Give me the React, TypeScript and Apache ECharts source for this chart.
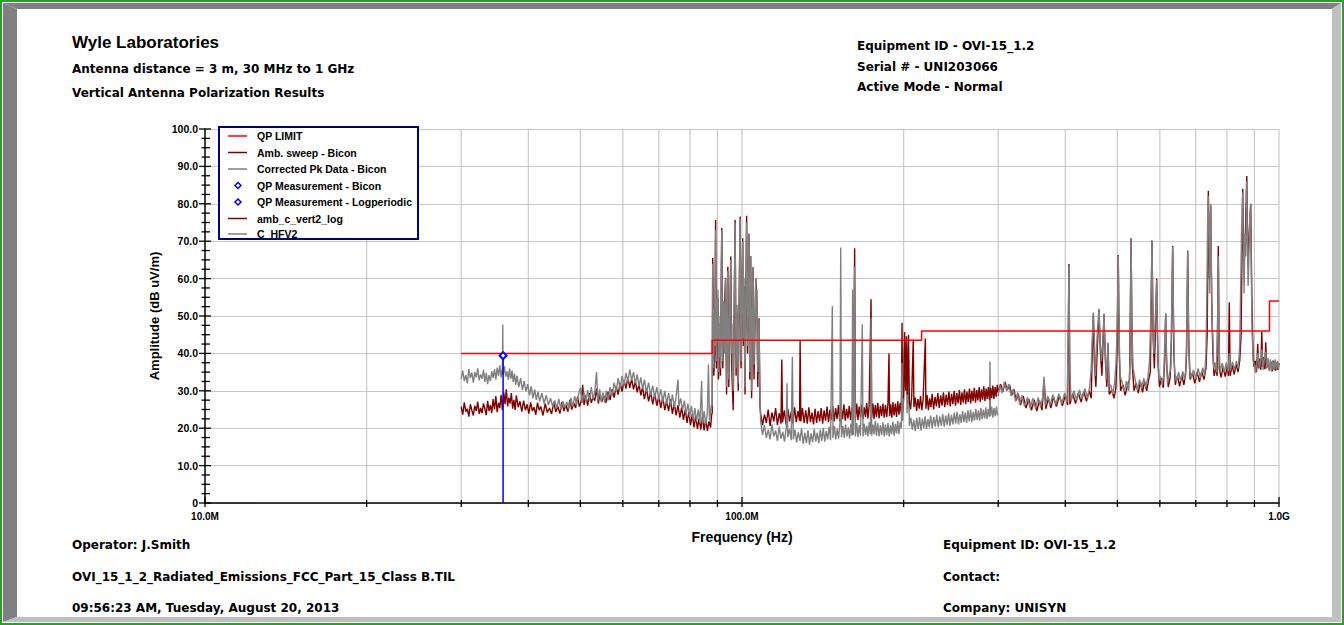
import React, { useEffect, useRef } from "react";
import * as echarts from "echarts";

const FONT = "'Liberation Sans', Arial, Helvetica, sans-serif";
const WIDE_FONT = "'DejaVu Sans', 'Liberation Sans', Arial, sans-serif";

// ---- axis ticks (MHz / dBuV/m) ----
const xMajorTicks = [10, 100, 1000];
const xTickLabels = ["10.0M", "100.0M", "1.0G"];
const xMinorTicks = [20, 30, 40, 50, 60, 70, 80, 90, 200, 300, 400, 500, 600, 700, 800, 900];
const xGridLines = [20, 30, 40, 50, 60, 70, 80, 90, 100, 200, 300, 400, 500, 600, 700, 800, 900, 1000];
const yMajorTicks = [0, 10, 20, 30, 40, 50, 60, 70, 80, 90, 100];
const yMinorTicks = [2.5, 5, 7.5, 12.5, 15, 17.5, 22.5, 25, 27.5, 32.5, 35, 37.5, 42.5, 45, 47.5, 52.5, 55, 57.5, 62.5, 65, 67.5, 72.5, 75, 77.5, 82.5, 85, 87.5, 92.5, 95, 97.5];

// ---- QP limit (MHz, dBuV/m) ----
const limitFreq = [30, 88, 216, 960, 1000];
const limitLevel = [40, 43.5, 46, 54, 54];

// ---- QP measurements ----
const qpBiconFreq = [35.9];
const qpBiconLevel = [39.4];
const qpLogFreq: number[] = [];
const qpLogLevel: number[] = [];

// ---- Amb. sweep - Bicon [MHz, dBuV/m] ----
const ambBicon = [
  [30.0,25.8],[30.2,23.6],[30.4,26.9],[30.6,24.4],[30.8,25.2],[31.0,23.1],[31.2,26.4],[31.4,24.8],[31.6,23.4],[31.8,26.0],
  [32.0,24.6],[32.2,27.1],[32.4,23.8],[32.6,25.4],[32.8,24.0],[33.0,26.6],[33.2,25.2],[33.4,23.5],[33.6,27.3],[33.8,24.6],
  [34.0,26.2],[34.2,24.1],[34.4,27.8],[34.6,25.0],[34.8,28.6],[35.0,24.3],[35.2,26.8],[35.4,25.4],[35.6,28.9],[35.8,24.8],
  [36.0,29.6],[36.2,26.4],[36.4,30.4],[36.6,25.8],[36.8,28.2],[37.0,26.6],[37.2,29.4],[37.4,25.2],[37.6,27.6],[37.8,24.9],
  [38.0,28.8],[38.3,25.6],[38.6,27.2],[38.9,24.4],[39.2,27.4],[39.5,24.8],[39.8,26.4],[40.1,23.9],[40.4,26.9],[40.7,24.6],
  [41.0,25.6],[41.3,23.6],[41.6,26.8],[41.9,24.8],[42.2,25.8],[42.6,23.4],[43.0,26.6],[43.4,24.2],[43.8,25.4],[44.2,23.8],
  [44.6,26.9],[45.0,24.4],[45.4,25.8],[45.8,23.9],[46.2,27.0],[46.6,24.6],[47.0,26.2],[47.4,24.4],[47.8,27.6],[48.2,25.0],
  [48.6,26.8],[49.0,25.4],[49.4,28.4],[49.8,25.8],[50.2,27.2],[50.5,31.6],[50.8,26.2],[51.2,28.8],[51.6,26.0],[52.0,29.4],
  [52.4,26.8],[52.8,28.2],[53.2,27.4],[53.6,30.6],[54.0,26.6],[54.4,29.2],[54.8,27.0],[55.3,28.6],[55.8,26.8],[56.3,29.8],
  [56.8,27.6],[57.3,30.4],[57.8,28.2],[58.3,31.2],[58.8,29.0],[59.3,32.2],[59.8,29.8],[60.3,32.8],[60.8,30.6],[61.3,33.6],
  [61.8,30.8],[62.3,33.2],[62.8,30.4],[63.3,32.6],[63.8,29.6],[64.3,31.8],[64.8,28.8],[65.3,31.0],[65.8,27.8],[66.4,30.6],
  [67.0,27.2],[67.6,29.8],[68.2,26.4],[68.8,29.4],[69.4,26.0],[70.0,28.6],[70.6,25.4],[71.2,28.4],[71.8,24.8],[72.4,27.4],
  [73.0,24.6],[73.6,27.8],[74.2,23.8],[74.8,26.6],[75.4,23.4],[76.0,26.2],[76.6,22.8],[77.2,25.6],[77.8,22.2],[78.4,25.0],
  [79.0,21.4],[79.6,24.4],[80.2,20.8],[80.8,23.8],[81.4,20.2],[82.0,23.4],[82.6,19.8],[83.2,22.6],[83.8,19.6],[84.4,23.0],
  [85.0,19.4],[85.6,22.4],[86.2,19.3],[86.8,21.8],[87.4,20.2],[87.8,23.6],
  [88.0,24.0],[88.2,65.5],[88.6,34.0],[89.0,40.0],[89.3,75.7],[89.6,36.0],[90.2,55.0],[90.4,33.0],[91.0,46.0],[91.2,34.0],
  [91.7,73.5],[92.1,36.0],[92.6,50.0],[93.2,60.2],[93.6,29.0],[94.1,63.2],[94.5,31.0],[95.3,65.9],[95.6,38.0],[96.3,24.8],
  [97.1,75.7],[97.5,34.0],[97.9,51.0],[98.4,30.0],[99.2,76.6],[99.6,36.0],[100.3,70.8],[100.6,42.0],[100.9,58.0],[101.3,29.0],
  [102.0,76.8],[102.4,40.0],[103.0,72.0],[103.4,33.0],[103.8,66.0],[104.2,28.0],[104.8,63.0],[105.3,33.0],[106.1,60.0],[106.6,55.0],
  [107.0,31.0],[107.6,49.4],[108.0,26.0],
  [108.3,24.0],[109.2,20.8],[110.1,23.6],[111.0,21.4],[111.9,25.0],[112.8,20.6],[113.7,24.2],[114.6,21.8],[115.5,25.4],[116.4,20.8],
  [117.3,24.0],[118.2,21.2],[118.6,38.4],[119.0,21.6],[119.9,24.8],[120.8,21.0],[121.7,25.2],[122.6,21.8],[123.5,24.4],[124.4,21.2],
  [125.3,25.6],[126.2,21.6],[127.1,24.6],[128.0,22.0],[128.3,43.3],[128.7,21.8],[129.6,25.4],[130.5,21.4],[131.4,24.8],[132.3,21.2],
  [133.2,25.6],[134.1,21.6],[135.0,24.2],[135.9,21.0],[136.8,25.2],[137.7,21.4],[138.6,24.6],[139.5,21.8],[140.4,25.4],[141.3,21.2],
  [142.2,24.8],[143.1,22.0],[144.0,25.8],[144.9,21.6],[145.8,25.0],[146.7,22.2],[147.6,26.0],[148.5,21.8],[149.4,25.4],[150.3,22.4],
  [151.2,26.2],[152.1,21.8],[153.0,25.6],[153.9,22.4],[154.8,26.4],[155.7,22.0],[156.6,25.2],[157.5,22.6],[158.4,26.0],[159.3,22.2],
  [160.2,25.6],[161.1,22.8],[162.1,68.1],[162.6,22.4],[163.5,26.6],[164.4,22.2],[165.3,25.8],[166.2,22.8],[167.1,26.4],[168.0,22.4],
  [168.9,25.6],[169.8,23.0],[170.7,26.8],[171.6,22.6],[172.5,26.0],[173.9,54.5],[174.4,22.8],[175.3,26.6],[176.2,22.4],[177.1,26.2],
  [178.0,23.0],[179.0,26.8],[180.0,22.6],[181.0,26.0],[182.0,23.2],[183.0,26.6],[184.0,22.8],[185.0,26.2],[186.0,23.0],[187.0,26.8],
  [187.8,40.0],[188.3,23.2],[189.2,26.4],[190.1,22.8],[191.0,27.0],[192.0,23.4],[193.0,26.6],[194.0,23.0],[195.0,27.2],[196.0,23.6],
  [197.0,26.8],[198.0,24.0],[198.6,48.2],[199.2,24.4],[200.0,28.0]
];

// ---- Corrected Pk Data - Bicon [MHz, dBuV/m] ----
const pkBicon = [
  [30.0,33.2],[30.2,35.4],[30.4,32.6],[30.6,34.2],[30.8,32.0],[31.0,35.8],[31.2,33.4],[31.4,34.9],[31.6,32.2],[31.8,35.0],
  [32.0,33.6],[32.2,36.0],[32.4,32.8],[32.6,34.4],[32.8,33.2],[33.0,35.6],[33.2,32.4],[33.4,34.8],[33.6,31.8],[33.8,34.2],
  [34.0,32.6],[34.2,35.2],[34.4,33.4],[34.6,35.8],[34.8,33.0],[35.0,36.2],[35.2,34.0],[35.4,36.8],[35.6,33.6],[35.8,36.2],
  [35.85,47.7],[35.9,34.2],[36.1,36.6],[36.3,33.8],[36.5,35.2],[36.7,33.0],[36.9,36.0],[37.1,33.2],[37.3,35.4],[37.5,32.4],
  [37.7,34.6],[37.9,31.6],[38.1,34.0],[38.4,31.0],[38.7,33.4],[39.0,30.2],[39.3,32.6],[39.6,29.8],[39.9,31.8],[40.2,28.8],
  [40.5,31.2],[40.8,28.0],[41.1,30.4],[41.4,27.6],[41.7,29.8],[42.0,27.2],[42.4,29.4],[42.8,26.6],[43.2,28.8],[43.6,26.2],
  [44.0,28.0],[44.4,25.8],[44.8,27.4],[45.2,25.4],[45.6,27.8],[46.0,25.0],[46.4,27.2],[46.8,25.6],[47.2,27.0],[47.6,25.2],
  [48.0,28.2],[48.4,25.8],[48.8,28.6],[49.2,26.2],[49.6,29.0],[50.0,30.8],[50.4,26.8],[50.8,29.6],[51.2,27.0],[51.6,30.2],
  [52.0,27.4],[52.4,31.0],[52.8,27.8],[53.2,30.0],[53.6,35.0],[53.9,27.2],[54.3,30.4],[54.7,27.0],[55.1,29.6],[55.5,26.8],
  [55.9,30.0],[56.3,27.4],[56.8,31.0],[57.3,28.6],[57.8,32.2],[58.3,29.8],[58.8,33.4],[59.3,30.6],[59.8,34.0],[60.3,31.4],
  [60.8,34.8],[61.3,32.4],[61.8,35.7],[62.3,32.8],[62.8,35.0],[63.3,32.0],[63.8,34.4],[64.3,31.2],[64.8,33.6],[65.3,30.4],
  [65.8,33.0],[66.4,29.6],[67.0,32.2],[67.6,28.8],[68.2,31.4],[68.8,28.2],[69.4,31.0],[70.0,27.6],[70.6,30.4],[71.2,27.0],
  [71.8,30.0],[72.4,26.4],[73.0,29.4],[73.6,26.0],[74.2,29.0],[74.8,25.6],[75.4,28.4],[76.0,33.0],[76.3,25.8],[76.9,28.0],
  [77.5,24.8],[78.1,27.4],[78.7,23.8],[79.3,26.6],[79.9,23.0],[80.5,26.0],[81.1,22.4],[81.7,25.4],[82.3,21.8],[82.9,25.0],
  [83.5,21.4],[84.1,32.6],[84.4,21.2],[85.0,24.6],[85.6,21.0],[86.2,24.0],[86.6,37.0],[87.0,22.0],[87.6,26.0],
  [88.0,26.0],[88.1,45.0],[88.2,64.0],[88.3,40.0],[88.45,52.0],[88.6,36.0],[88.8,48.0],[89.0,42.0],[89.15,60.0],[89.3,73.0],
  [89.45,46.0],[89.6,38.0],[89.8,55.0],[90.0,44.0],[90.2,57.0],[90.4,35.0],[90.6,50.0],[90.8,39.0],[91.0,48.0],[91.2,36.0],
  [91.45,62.0],[91.7,73.0],[91.9,45.0],[92.1,38.0],[92.35,54.0],[92.6,52.0],[92.8,40.0],[93.0,50.0],[93.2,60.0],[93.4,42.0],
  [93.6,31.0],[93.85,50.0],[94.1,62.0],[94.3,40.0],[94.5,33.0],[94.75,48.0],[95.0,55.0],[95.3,65.0],[95.45,46.0],[95.6,40.0],
  [95.8,48.0],[96.0,36.0],[96.3,30.0],[96.55,48.0],[96.8,58.0],[97.1,75.0],[97.3,50.0],[97.5,36.0],[97.7,45.0],[97.9,53.0],
  [98.15,40.0],[98.4,32.0],[98.6,46.0],[98.9,62.0],[99.2,76.0],[99.4,52.0],[99.6,38.0],[99.9,55.0],[100.3,70.0],[100.45,50.0],
  [100.6,44.0],[100.9,60.0],[101.1,42.0],[101.3,31.0],[101.6,52.0],[102.0,75.0],[102.2,55.0],[102.4,42.0],[102.7,58.0],[103.0,72.0],
  [103.2,48.0],[103.4,35.0],[103.6,50.0],[103.8,66.0],[104.0,44.0],[104.2,30.0],[104.5,48.0],[104.8,63.0],[105.05,45.0],[105.3,37.0],
  [105.7,50.0],[106.1,60.0],[106.35,48.0],[106.6,57.0],[106.8,42.0],[107.0,35.0],[107.3,44.0],[107.6,49.0],[107.8,36.0],[108.0,30.0],
  [108.3,22.0],[109.2,18.2],[110.1,20.8],[111.0,17.4],[111.9,19.6],[112.8,17.0],[113.7,21.0],[114.6,17.8],[115.5,19.4],[116.4,16.6],
  [117.3,20.4],[118.2,17.2],[119.1,19.0],[120.0,16.4],[120.9,20.2],[121.3,32.0],[121.7,17.6],[122.6,19.8],[123.5,16.8],[124.1,39.1],
  [124.6,17.0],[125.5,19.6],[126.4,16.2],[127.3,19.0],[128.2,16.6],[129.1,20.0],[130.0,15.8],[130.9,18.8],[131.8,16.0],[132.7,19.4],
  [133.6,15.6],[134.5,18.6],[135.4,16.2],[136.3,19.8],[137.2,16.4],[138.1,18.8],[139.0,16.0],[139.9,19.6],[140.8,16.6],[141.7,20.0],
  [142.6,16.4],[143.5,19.2],[144.4,17.0],[145.3,20.4],[146.2,16.8],[147.3,52.7],[147.7,17.4],[148.6,20.6],[149.5,17.0],[150.4,19.8],
  [151.3,17.2],[152.2,21.4],[152.7,68.3],[153.2,17.6],[154.1,20.6],[155.0,17.4],[155.9,21.0],[156.8,17.8],[157.7,20.2],[158.6,17.2],
  [159.5,21.2],[160.2,18.0],[160.7,57.1],[161.2,18.2],[162.1,63.2],[162.6,17.8],[163.5,21.4],[164.4,17.6],[165.3,20.8],[166.2,18.0],
  [167.5,47.8],[168.0,17.8],[168.9,21.2],[169.8,18.2],[170.7,20.6],[171.6,17.8],[172.5,21.6],[173.4,18.4],[173.9,49.5],[174.4,18.0],
  [175.3,21.0],[176.2,18.4],[177.1,22.0],[178.0,18.0],[179.0,21.4],[180.0,17.8],[181.0,20.8],[182.0,18.2],[183.0,21.6],[184.0,17.8],
  [185.0,21.0],[186.0,18.2],[187.0,21.4],[188.0,17.8],[189.0,20.8],[190.0,18.4],[191.0,21.8],[192.0,18.0],[193.0,21.2],[194.0,18.6],
  [195.0,22.0],[196.0,18.4],[197.0,21.6],[198.0,20.0],[198.6,37.4],[199.2,22.0],[200.5,41.4],[201.3,30.6],[202.2,38.8],[203.0,24.0],
  [204.0,34.0],[205.0,20.6],[206.3,22.8],[207.6,19.6],[208.9,22.2],[210.2,19.2],[211.5,22.8],[212.8,19.8],[214.1,23.0],[215.4,19.4],
  [216.7,22.6],[218.0,20.0],[219.3,23.2],[220.6,19.8],[221.9,22.4],[223.2,20.2],[224.5,23.4],[226.0,20.0],[227.5,23.0],[229.0,20.4],
  [230.5,23.6],[232.0,20.2],[233.5,23.2],[235.0,20.6],[236.5,23.8],[238.0,20.4],[239.5,23.4],[241.0,20.8],[242.5,24.0],[244.0,20.6],
  [245.5,23.6],[247.0,21.0],[248.5,24.2],[250.0,21.2],[251.5,24.4],[253.0,21.0],[254.5,23.8],[256.0,21.4],[257.5,24.6],[259.0,21.6],
  [260.5,24.2],[262.0,21.4],[263.5,24.8],[265.0,21.8],[266.5,25.0],[268.0,21.6],[269.5,24.4],[271.0,22.0],[272.5,25.2],[274.0,22.2],
  [275.5,24.8],[277.0,22.0],[278.5,25.4],[280.0,22.4],[281.5,25.0],[283.0,22.6],[284.5,25.6],[286.0,22.4],[287.5,25.2],[289.0,23.0],
  [289.6,37.8],[290.2,23.2],[291.7,25.8],[293.2,22.8],[294.7,25.4],[296.2,23.2],[297.7,25.8],[299.0,23.4]
];

// ---- amb_c_vert2_log [MHz, dBuV/m] ----
const ambLog = [
  [200.0,28.0],[200.8,45.7],[201.6,30.0],[202.4,44.6],[203.2,29.0],[204.2,45.0],[205.0,27.0],[206.0,25.0],[207.0,28.4],[208.4,43.7],
  [209.0,25.6],[210.2,28.2],[211.4,24.6],[212.6,27.8],[213.8,25.2],[215.0,28.6],[216.2,24.8],[217.4,27.6],[219.5,44.0],[220.0,25.2],
  [221.2,28.8],[222.4,24.8],[223.6,28.0],[224.8,25.6],[226.0,29.2],[227.4,25.0],[228.8,28.4],[230.2,25.8],[231.6,29.4],[233.0,25.4],
  [234.4,28.8],[235.8,26.0],[237.2,29.6],[238.6,25.6],[240.0,29.0],[241.4,26.2],[242.8,29.8],[244.2,25.8],[245.6,29.2],[247.0,26.4],
  [248.4,30.0],[249.8,26.0],[251.2,29.4],[252.6,26.6],[254.0,30.2],[255.4,26.2],[256.8,29.6],[258.2,26.8],[259.6,30.4],[261.0,26.4],
  [262.4,29.8],[263.8,27.0],[265.2,30.6],[266.6,26.6],[268.0,30.0],[269.4,27.2],[270.8,30.8],[272.2,26.8],[273.6,30.2],[275.0,27.4],
  [276.4,31.0],[277.8,27.0],[279.2,30.4],[280.6,27.6],[282.0,31.2],[283.4,27.2],[284.8,30.6],[286.2,27.8],[287.6,31.0],[289.0,27.6],
  [290.4,30.8],[291.8,28.0],[293.2,31.4],[294.6,27.8],[296.0,31.0],[297.4,28.4],[298.8,31.6],[300.0,29.6],[303.0,31.8],[306.0,29.8],
  [309.0,32.4],[312.0,30.2],[315.0,31.6],[318.0,28.8],[321.0,30.4],[324.0,27.4],[327.0,29.2],[330.0,26.2],[334.0,28.6],[338.0,25.4],
  [342.0,27.8],[346.0,24.8],[350.0,27.6],[354.0,24.6],[358.0,27.4],[362.0,24.8],[365.2,33.0],[368.0,25.2],[372.0,28.0],[376.0,25.4],
  [380.0,28.4],[385.0,25.8],[390.0,28.6],[395.0,26.0],[400.0,28.8],[404.0,26.2],[406.3,63.9],[408.0,26.4],[413.0,29.2],[418.0,26.6],
  [423.0,29.4],[428.0,27.0],[433.0,29.8],[438.0,27.2],[443.0,30.0],[447.0,28.0],[449.0,40.0],[451.1,50.5],[453.0,38.0],[456.0,31.0],
  [459.0,42.0],[462.2,51.6],[465.0,40.0],[468.0,34.0],[472.2,50.3],[475.0,38.0],[478.0,31.0],[480.4,42.6],[483.0,29.0],[488.0,30.2],
  [493.0,28.0],[497.0,31.0],[499.5,42.0],[501.9,66.3],[504.0,40.0],[507.0,30.0],[512.0,31.6],[517.0,28.8],[522.0,31.4],[527.0,33.0],
  [530.3,70.8],[533.0,37.0],[537.0,30.0],[542.0,32.0],[547.0,29.4],[552.0,32.4],[557.0,29.6],[562.0,32.6],[567.0,30.0],[572.0,33.0],
  [576.0,35.0],[580.1,70.0],[583.0,44.0],[586.0,36.0],[588.5,45.0],[591.9,60.0],[595.0,38.0],[599.0,31.0],[604.0,33.4],[609.0,30.8],
  [612.5,38.0],[615.2,50.5],[618.0,36.0],[622.0,31.0],[627.0,33.6],[630.5,44.0],[633.9,68.7],[637.0,40.0],[641.0,31.6],[647.0,34.0],
  [653.0,31.2],[659.0,34.2],[665.0,31.6],[670.0,34.4],[673.0,40.0],[676.1,67.5],[679.0,44.0],[683.0,33.0],[690.0,34.8],[697.0,32.0],
  [704.0,35.0],[711.0,32.4],[718.0,35.2],[725.0,33.0],[731.0,36.0],[735.0,45.0],[738.6,83.5],[742.0,60.0],[746.2,79.5],[749.0,55.0],
  [753.0,40.0],[757.0,34.0],[763.0,36.0],[767.0,34.0],[770.9,68.7],[774.0,36.0],[780.0,33.6],[787.0,36.4],[794.0,33.8],[801.0,36.6],
  [805.0,34.0],[808.0,53.6],[811.0,34.0],[818.0,36.8],[825.0,34.4],[832.0,37.0],[839.0,35.0],[845.0,38.0],[850.0,45.0],[855.9,84.0],
  [860.0,62.0],[865.0,70.0],[870.9,87.4],[875.0,64.0],[880.0,72.0],[885.9,80.0],[890.0,55.0],[894.0,42.0],[898.0,36.4],[904.0,38.0],
  [908.0,35.0],[912.9,42.6],[916.0,36.0],[921.0,38.6],[925.0,35.6],[928.8,45.8],[932.0,36.4],[937.0,39.0],[941.0,35.8],[944.8,43.0],
  [948.0,36.0],[954.0,38.2],[960.0,35.4],[966.0,37.8],[972.0,35.2],[978.0,38.0],[984.0,35.4],[990.0,37.6],[996.0,35.6],[1000.0,37.4]
];

// ---- C_HFV2 [MHz, dBuV/m] ----
const hfv2 = [
  [300.0,28.6],[302.0,31.6],[305.0,29.4],[308.0,32.4],[311.0,30.0],[314.0,31.8],[317.0,28.6],[320.0,30.4],[323.0,27.2],[326.0,29.6],
  [329.0,26.4],[332.0,28.8],[336.0,25.8],[340.0,28.2],[344.0,25.4],[348.0,28.0],[352.0,25.2],[356.0,28.2],[360.0,25.6],[363.0,28.4],
  [365.2,33.8],[367.0,26.0],[371.0,28.6],[375.0,26.2],[379.0,29.0],[384.0,26.4],[389.0,29.2],[394.0,26.6],[399.0,29.4],[403.0,27.0],
  [404.5,38.0],[406.3,63.5],[408.0,35.0],[410.0,27.2],[415.0,30.0],[420.0,27.4],[425.0,30.2],[430.0,27.8],[435.0,30.6],[440.0,28.0],
  [444.0,31.0],[447.0,36.0],[449.0,44.0],[451.1,50.9],[453.0,44.0],[455.0,34.0],[457.0,40.0],[459.0,46.0],[462.2,52.0],[464.0,44.0],
  [467.0,38.0],[470.0,44.0],[472.2,50.7],[474.0,43.0],[477.0,33.0],[480.4,43.0],[482.0,31.0],[486.0,31.6],[490.0,29.2],[494.0,32.0],
  [497.0,37.0],[499.5,46.0],[501.9,66.0],[504.0,44.0],[506.0,34.0],[510.0,32.4],[515.0,29.8],[520.0,32.6],[525.0,30.0],[528.0,38.0],
  [530.3,70.6],[532.0,48.0],[535.0,36.0],[540.0,32.8],[545.0,30.2],[550.0,33.0],[555.0,30.6],[560.0,33.4],[565.0,31.0],[570.0,33.6],
  [574.0,38.0],[577.0,50.0],[580.1,70.3],[582.0,52.0],[585.0,40.0],[588.5,50.0],[591.9,59.6],[594.0,44.0],[597.0,33.0],[601.0,34.0],
  [606.0,31.6],[610.0,34.2],[612.5,42.0],[615.2,50.7],[617.0,40.0],[620.0,32.0],[625.0,34.6],[629.0,36.0],[631.0,50.0],[633.9,68.5],
  [636.0,50.0],[639.0,35.0],[644.0,32.4],[650.0,35.0],[656.0,32.6],[662.0,35.2],[667.0,33.0],[671.0,36.0],[673.5,48.0],[676.1,67.3],
  [678.0,48.0],[681.0,36.0],[686.0,33.4],[693.0,35.6],[700.0,33.2],[707.0,36.0],[714.0,33.4],[721.0,36.2],[727.0,34.0],[731.0,40.0],
  [734.0,56.0],[736.5,76.0],[738.6,82.0],[740.5,74.0],[742.5,56.0],[744.5,70.0],[746.2,80.0],[748.0,66.0],[750.0,52.0],[753.0,44.0],
  [756.0,36.0],[760.0,37.6],[765.0,35.0],[768.5,48.0],[770.9,66.0],[773.0,42.0],[777.0,35.2],[784.0,37.4],[791.0,35.0],[798.0,37.6],
  [804.0,35.2],[808.0,40.0],[812.0,35.4],[819.0,37.8],[826.0,35.6],[833.0,38.0],[840.0,36.0],[845.0,42.0],[849.0,60.0],[852.0,74.0],
  [855.9,83.0],[858.0,68.0],[861.0,56.0],[864.0,72.0],[867.0,66.0],[870.9,86.0],[873.0,70.0],[876.0,58.0],[879.0,66.0],[882.0,76.0],
  [885.9,80.0],[888.0,62.0],[891.0,46.0],[895.0,38.0],[899.0,37.0],[904.0,34.8],[909.0,37.6],[914.0,40.0],[919.0,36.0],[924.0,38.0],
  [929.0,41.0],[934.0,35.6],[939.0,38.6],[944.0,40.4],[949.0,36.2],[954.0,38.8],[959.0,35.4],[964.0,38.4],[969.0,35.2],[974.0,38.2],
  [979.0,35.6],[984.0,38.4],[989.0,35.4],[994.0,38.0],[999.0,35.8]
];

const LEGEND_NAMES = [
  "QP LIMIT",
  "Amb. sweep - Bicon",
  "Corrected Pk Data - Bicon",
  "QP Measurement - Bicon",
  "QP Measurement - Logperiodic",
  "amb_c_vert2_log",
  "C_HFV2",
];
const LEGEND_COLORS = ["#ff0000", "#800000", "#808080", "#0000ff", "#0000ff", "#800000", "#808080"];
const LEGEND_KIND = ["line", "line", "line", "diamond", "diamond", "line", "line"];

function stems(freqs: number[], levels: number[]) {
  const out: any[] = [];
  freqs.forEach((f, i) => {
    if (i > 0) out.push("-");
    out.push({ value: [f, 0], symbol: "none" });
    out.push({ value: [f, levels[i]], symbol: "emptyDiamond", symbolSize: 7 });
  });
  return out;
}

function buildOption() {
  const decor: number[][] = [];
  xGridLines.forEach((f) => decor.push([f, 0, 0]));
  xMinorTicks.forEach((f) => decor.push([f, 0, 1]));
  xMajorTicks.forEach((f) => decor.push([f, 0, 2]));
  yMajorTicks.forEach((v) => decor.push([10, v, 3]));
  yMinorTicks.forEach((v) => decor.push([10, v, 4]));

  const limitData = limitFreq.map((f, i) => [f, limitLevel[i]]);

  const txt = (text: string, x: number, y: number, size = 12, family = WIDE_FONT) => ({
    type: "text",
    x,
    y,
    z: 100,
    silent: true,
    style: {
      text,
      fill: "#000",
      fontFamily: family,
      fontSize: size,
      fontWeight: "bold",
      verticalAlign: "middle",
      align: "left",
    },
  });

  const legendRows = [136, 152.5, 169, 185.5, 202, 218.5, 234];
  const legendEls: any[] = [
    {
      type: "rect",
      z: 100,
      silent: true,
      shape: { x: 219, y: 127, width: 199, height: 112 },
      style: { fill: "#ffffff", stroke: "#000080", lineWidth: 2 },
    },
  ];
  LEGEND_NAMES.forEach((name, i) => {
    const y = legendRows[i];
    if (LEGEND_KIND[i] === "line") {
      legendEls.push({
        type: "line",
        z: 101,
        silent: true,
        shape: { x1: 228, y1: y, x2: 247, y2: y },
        style: { stroke: LEGEND_COLORS[i], lineWidth: 1.5 },
      });
    } else {
      legendEls.push({
        type: "polygon",
        z: 101,
        silent: true,
        shape: { points: [[238, y - 3], [241, y], [238, y + 3], [235, y]] },
        style: { fill: "#ffffff", stroke: LEGEND_COLORS[i], lineWidth: 1.5 },
      });
    }
    legendEls.push(txt(name, 257, y, 10.5, FONT));
  });

  const frame = [
    { type: "rect", z: 90, silent: true, shape: { x: 1, y: 1, width: 1342, height: 623 }, style: { fill: "none", stroke: "#2f9a2f", lineWidth: 2 } },
    { type: "polygon", z: 91, silent: true, shape: { points: [[3, 3], [1341, 3], [1332, 9], [17, 9]] }, style: { fill: "#808080" } },
    { type: "polygon", z: 91, silent: true, shape: { points: [[3, 3], [17, 9], [17, 617], [3, 622]] }, style: { fill: "#808080" } },
    { type: "polygon", z: 91, silent: true, shape: { points: [[1341, 3], [1341, 622], [1332, 617], [1332, 9]] }, style: { fill: "#c0c0c0" } },
    { type: "polygon", z: 91, silent: true, shape: { points: [[3, 622], [1341, 622], [1332, 617], [17, 617]] }, style: { fill: "#c0c0c0" } },
  ];

  const texts = [
    txt("Wyle Laboratories", 72, 42, 17, FONT),
    txt("Antenna distance = 3 m, 30 MHz to 1 GHz", 72, 69),
    txt("Vertical Antenna Polarization Results", 72, 93),
    txt("Equipment ID - OVI-15_1.2", 857, 46),
    txt("Serial # - UNI203066", 857, 67),
    txt("Active Mode - Normal", 857, 87),
    txt("Operator: J.Smith", 72, 545),
    txt("OVI_15_1_2_Radiated_Emissions_FCC_Part_15_Class B.TIL", 72, 577),
    txt("09:56:23 AM, Tuesday, August 20, 2013", 72, 608),
    txt("Equipment ID: OVI-15_1.2", 943, 545),
    txt("Contact:", 943, 577),
    txt("Company: UNISYN", 943, 608),
  ];

  const lineSeries = (name: string, data: any[], color: string, z = 2, width = 1.4) => ({
    name,
    type: "line",
    data,
    z,
    symbol: "none",
    showSymbol: false,
    silent: true,
    lineStyle: { color, width },
    itemStyle: { color },
    emphasis: { disabled: true },
  });

  return {
    animation: false,
    backgroundColor: "#ffffff",
    grid: { left: 205, right: 65, top: 129, bottom: 122, containLabel: false },
    xAxis: {
      type: "log",
      logBase: 10,
      min: 10,
      max: 1000,
      axisLine: { show: true, lineStyle: { color: "#000", width: 1.5 } },
      axisTick: { show: false },
      minorTick: { show: false },
      splitLine: { show: false },
      minorSplitLine: { show: false },
      axisLabel: {
        showMinLabel: true,
        showMaxLabel: true,
        margin: 8,
        color: "#000",
        fontFamily: FONT,
        fontSize: 10,
        fontWeight: "bold",
        formatter: (v: number) => {
          const idx = xMajorTicks.findIndex((t) => Math.abs(Math.log10(t) - Math.log10(v)) < 0.01);
          return idx >= 0 ? xTickLabels[idx] : "";
        },
      },
      name: "Frequency (Hz)",
      nameLocation: "middle",
      nameGap: 27,
      nameTextStyle: { color: "#000", fontFamily: FONT, fontSize: 14, fontWeight: "bold" },
    },
    yAxis: {
      type: "value",
      min: 0,
      max: 100,
      interval: 10,
      axisLine: { show: true, lineStyle: { color: "#000", width: 1.5 } },
      axisTick: { show: false },
      splitLine: { show: true, lineStyle: { color: "#c8c8c8", width: 1.2 } },
      axisLabel: {
        margin: 7,
        color: "#000",
        fontFamily: FONT,
        fontSize: 10.5,
        fontWeight: "bold",
        formatter: (v: number) => (v === 0 ? "0" : v.toFixed(1)),
      },
      name: "Amplitude (dB uV/m)",
      nameLocation: "middle",
      nameGap: 44,
      nameRotate: 90,
      nameTextStyle: { color: "#000", fontFamily: FONT, fontSize: 13, fontWeight: "bold" },
    },
    graphic: [...frame, ...texts, ...legendEls],
    series: [
      {
        name: "decor",
        type: "custom",
        z: 1,
        silent: true,
        clip: false,
        data: decor,
        renderItem: (_p: any, api: any) => {
          const kind = api.value(2);
          const xv = api.value(0);
          const yv = api.value(1);
          const p = api.coord([xv, yv]);
          if (kind === 0) {
            const top = api.coord([xv, 100]);
            return {
              type: "line",
              shape: { x1: p[0], y1: p[1], x2: top[0], y2: top[1] },
              style: { stroke: "#c8c8c8", lineWidth: 1.2 },
            };
          }
          let shape;
          if (kind === 1) shape = { x1: p[0], y1: p[1] - 3, x2: p[0], y2: p[1] + 4 };
          else if (kind === 2) shape = { x1: p[0], y1: p[1] - 6, x2: p[0], y2: p[1] + 4 };
          else if (kind === 3) shape = { x1: p[0] - 6, y1: p[1], x2: p[0] + 6, y2: p[1] };
          else shape = { x1: p[0] - 3.5, y1: p[1], x2: p[0] + 5, y2: p[1] };
          return { type: "line", shape, style: { stroke: "#000", lineWidth: 1.3 } };
        },
      },
      lineSeries("Amb. sweep - Bicon", ambBicon, "#800000"),
      lineSeries("Corrected Pk Data - Bicon", pkBicon, "#808080"),
      lineSeries("amb_c_vert2_log", ambLog, "#800000"),
      lineSeries("C_HFV2", hfv2, "#808080"),
      { ...lineSeries("QP LIMIT", limitData, "#ff0000", 4, 1.5), step: "end" },
      {
        name: "QP Measurement - Bicon",
        type: "line",
        z: 5,
        silent: true,
        data: stems(qpBiconFreq, qpBiconLevel),
        symbol: "emptyDiamond",
        symbolSize: 7,
        showSymbol: true,
        showAllSymbol: true,
        connectNulls: false,
        lineStyle: { color: "#0000ff", width: 1.5 },
        itemStyle: { color: "#0000ff", borderColor: "#0000ff", borderWidth: 1.5 },
        emphasis: { disabled: true },
      },
      {
        name: "QP Measurement - Logperiodic",
        type: "line",
        z: 5,
        silent: true,
        data: stems(qpLogFreq, qpLogLevel),
        symbol: "emptyDiamond",
        symbolSize: 7,
        lineStyle: { color: "#0000ff", width: 1.5 },
        itemStyle: { color: "#0000ff" },
      },
    ],
  };
}

export default function App() {
  const ref = useRef<HTMLDivElement>(null);
  useEffect(() => {
    if (!ref.current) return;
    const chart = echarts.init(ref.current, null, { renderer: "svg" });
    chart.setOption(buildOption() as any);
    return () => chart.dispose();
  }, []);
  return (
    <div
      ref={ref}
      style={{ position: "fixed", left: 0, top: 0, width: 1344, height: 625, background: "#fff" }}
    />
  );
}
